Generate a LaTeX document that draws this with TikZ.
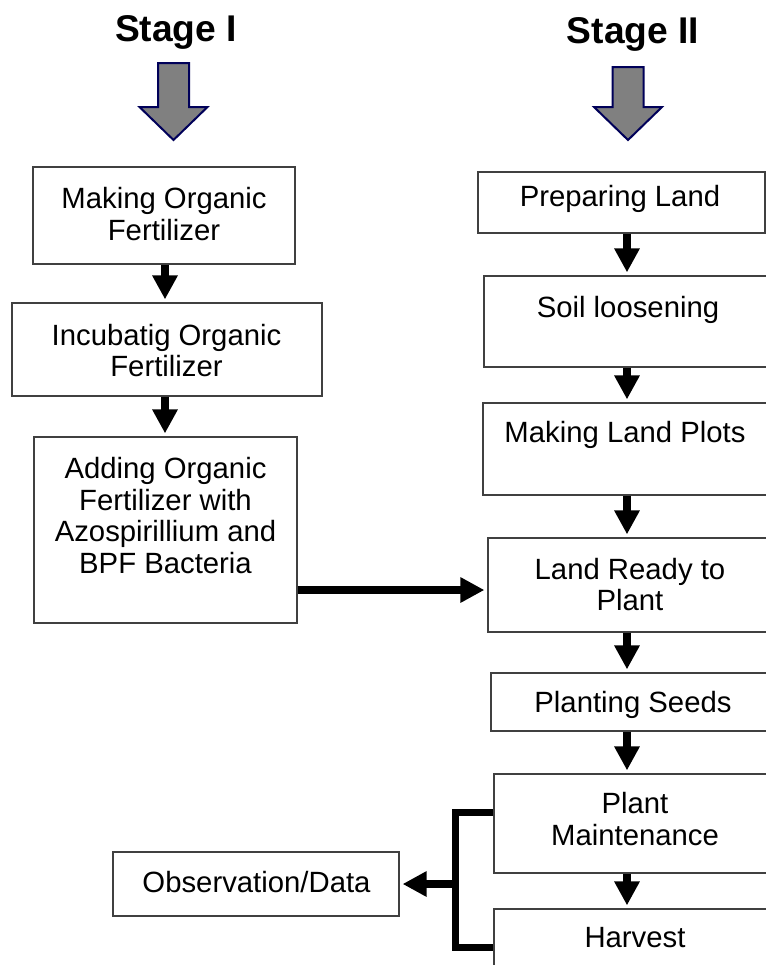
\documentclass[tikz,border=0pt]{standalone}
\usepackage{fontspec}
\setmainfont{Liberation Sans}
\usetikzlibrary{arrows.meta}

\tikzset{
  box/.style={draw=black!75, line width=0.6pt, inner sep=0pt},
  txt/.style={align=center, inner sep=0pt, font=\fontsize{14.65}{15.85}\selectfont},
  stagetitle/.style={inner sep=0pt, font=\bfseries\fontsize{18.6}{22}\selectfont},
  flow/.style={line width=4.4pt, shorten >=1.5pt, -{Triangle[length=12pt,width=12pt]}},
  brk/.style={line width=3.5pt},
  bigarrow/.style={draw=blue!35!black, line width=1pt, fill=black!50, line join=miter}
}

\begin{document}
\begin{tikzpicture}[x=0.5pt, y=-0.5pt]
\useasboundingbox (0,0) rectangle (766,965);
\clip (0,0) rectangle (766,965);
\fill[white] (0,0) rectangle (766,965);

% stage headings
\node[stagetitle] (s1) at (176,32) {Stage I};
\node[stagetitle] (s2) at (633,34) {Stage II};
\foreach \cx/\ty in {173.5/63,628/67} {
\draw[bigarrow] (\cx-15.5,\ty) -- (\cx+15.5,\ty) -- (\cx+15.5,107) -- (\cx+34,107) -- (\cx,140) -- (\cx-34,107) -- (\cx-15.5,107) -- cycle;
}

% stage I
\node[box, minimum width=131pt, minimum height=48.5pt] (make) at (164,215.5) {};
\node[txt] (t-make) at (164,214) {Making Organic\\Fertilizer};
\node[box, minimum width=155pt, minimum height=46.5pt] (incub) at (167,349.5) {};
\node[txt] (t-incub) at (166.5,350.5) {Incubatig Organic\\Fertilizer};
\node[box, minimum width=131.5pt, minimum height=93pt] (add) at (165.5,530) {};
\node[txt] (t-add) at (165.5,515.5) {Adding Organic\\Fertilizer with\\Azospirillium and\\BPF Bacteria};

% stage II
\node[box, minimum width=143.5pt, minimum height=30.5pt] (prep) at (621.5,202.5) {};
\node[txt] (t-prep) at (620,198.5) {Preparing Land};
\node[box, minimum width=144pt, minimum height=45.5pt] (soil) at (628,321.5) {};
\node[txt] (t-soil) at (628,309.5) {Soil loosening};
\node[box, minimum width=143.5pt, minimum height=46pt] (plots) at (626.5,449) {};
\node[txt] (t-plots) at (625,435) {Making Land Plots};
\node[box, minimum width=142pt, minimum height=47pt] (ready) at (630,585) {};
\node[txt] (t-ready) at (630,584.5) {Land Ready to\\Plant};
\node[box, minimum width=142pt, minimum height=29pt] (seeds) at (633,702) {};
\node[txt] (t-seeds) at (633,705) {Planting Seeds};
\node[box, minimum width=141pt, minimum height=49.5pt] (maint) at (635,823.5) {};
\node[txt] (t-maint) at (635,819) {Plant\\Maintenance};
\node[box, minimum width=141pt, minimum height=48pt] (harv) at (635,957) {};
\node[txt] (t-harv) at (635,938) {Harvest};

\node[box, minimum width=143pt, minimum height=32pt] (obs) at (256,884) {};
\node[txt] (t-obs) at (256.5,882) {Observation/Data};

% arrows
\coordinate (colL) at (165,0);
\coordinate (colR) at (627,0);
\foreach \a/\b in {make/incub,incub/add}
  \draw[flow] (\a.south -| colL) -- (\b.north -| colL);
\foreach \a/\b in {prep/soil,soil/plots,plots/ready,ready/seeds,seeds/maint,maint/harv}
  \draw[flow] (\a.south -| colR) -- (\b.north -| colR);

\coordinate (hz) at (0,590);
\draw[flow] (add.east |- hz) -- (ready.west |- hz);

\coordinate (bT) at (455,812);
\coordinate (bM) at (455,884);
\coordinate (bB) at (455,947);
\draw[brk] (maint.west |- bT) -- (bT) -- (bB) -- (harv.west |- bB);
\draw[flow] (bM) -- (obs.east);
\end{tikzpicture}
\end{document}
